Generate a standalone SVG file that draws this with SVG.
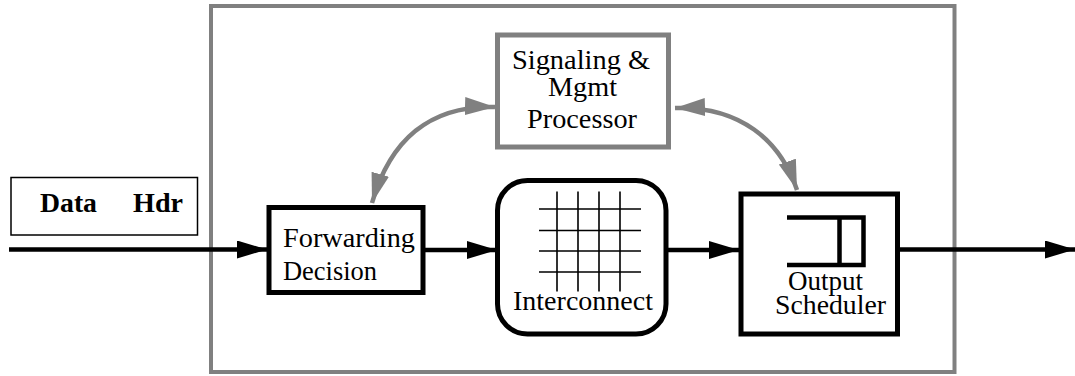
<svg xmlns="http://www.w3.org/2000/svg" width="1075" height="376" viewBox="0 0 1075 376">
<style>
text{font-family:'Liberation Serif','Times New Roman',Times,'DejaVu Serif',serif;font-size:27.5px;fill:#000}
.b{font-weight:bold}
.blk{fill:#fff;stroke:#000;stroke-width:5}
.gry{fill:#fff;stroke:#808080;stroke-width:5}
.ln{stroke:#000;stroke-width:4.5;fill:none}
.arc{stroke:#808080;stroke-width:4.5;fill:none}
.grid{stroke:#000;stroke-width:1.6}
</style>
<defs>
<marker id="ab" markerUnits="userSpaceOnUse" markerWidth="32" markerHeight="20" refX="30" refY="9" orient="auto-start-reverse" viewBox="0 0 32 20">
<path d="M0,0 L30,9 L0,18 Z" fill="#000"/>
</marker>
<marker id="ag" markerUnits="userSpaceOnUse" markerWidth="32" markerHeight="20" refX="30" refY="9" orient="auto-start-reverse" viewBox="0 0 32 20">
<path d="M0,0 L30,9 L0,18 Z" fill="#808080"/>
</marker>
</defs>
<g id="router-frame">
<rect x="211" y="6" width="743.5" height="366" fill="none" stroke="#808080" stroke-width="4"/>
</g>
<g id="packet">
<rect x="11" y="177.5" width="186.5" height="57.5" fill="#fff" stroke="#000" stroke-width="1.5"/>
<text class="b" x="40" y="211.5" textLength="57" lengthAdjust="spacingAndGlyphs">Data</text>
<text class="b" x="133" y="211.5" textLength="50" lengthAdjust="spacingAndGlyphs">Hdr</text>
</g>
<g id="connectors">
<line class="ln" x1="9" y1="249.5" x2="267" y2="249.5" marker-end="url(#ab)"/>
<line class="ln" x1="425" y1="250" x2="497" y2="250" marker-end="url(#ab)"/>
<line class="ln" x1="666" y1="250" x2="739" y2="250" marker-end="url(#ab)"/>
<line class="ln" x1="897" y1="249.5" x2="1075" y2="249.5" marker-end="url(#ab)"/>
<path class="arc" d="M495,107 C430,105 390,140 372,203" marker-start="url(#ag)" marker-end="url(#ag)"/>
<path class="arc" d="M675,108 C740,106 780,140 797,190" marker-start="url(#ag)" marker-end="url(#ag)"/>
</g>
<g id="forwarding-decision">
<rect class="blk" x="269" y="207.5" width="154" height="85"/>
<text x="283" y="246.5" textLength="132" lengthAdjust="spacingAndGlyphs">Forwarding</text>
<text x="283" y="280" textLength="94" lengthAdjust="spacingAndGlyphs">Decision</text>
</g>
<g id="signaling-processor">
<rect class="gry" x="497.5" y="35" width="171" height="112"/>
<text x="512" y="69" textLength="138" lengthAdjust="spacingAndGlyphs">Signaling &amp;</text>
<text x="548" y="96" textLength="69" lengthAdjust="spacingAndGlyphs">Mgmt</text>
<text x="527" y="128" textLength="110" lengthAdjust="spacingAndGlyphs">Processor</text>
</g>
<g id="interconnect">
<rect class="blk" x="497.5" y="180.5" width="168.5" height="153.5" rx="30" ry="30"/>
<path class="grid" d="M557,191.5V291.5M578,191.5V291.5M599,191.5V291.5M620,191.5V291.5M539,209H641M539,230.5H641M539,251H641M539,272H641"/>
<text x="513" y="310" textLength="140" lengthAdjust="spacingAndGlyphs">Interconnect</text>
</g>
<g id="output-scheduler">
<rect class="blk" x="741" y="194" width="156.5" height="140"/>
<path d="M787,217.5H863.5V265H787M839.5,217.5V265" fill="none" stroke="#000" stroke-width="4.5"/>
<text x="788" y="289.5" textLength="75" lengthAdjust="spacingAndGlyphs">Output</text>
<text x="775" y="314" textLength="111" lengthAdjust="spacingAndGlyphs">Scheduler</text>
</g>
</svg>
